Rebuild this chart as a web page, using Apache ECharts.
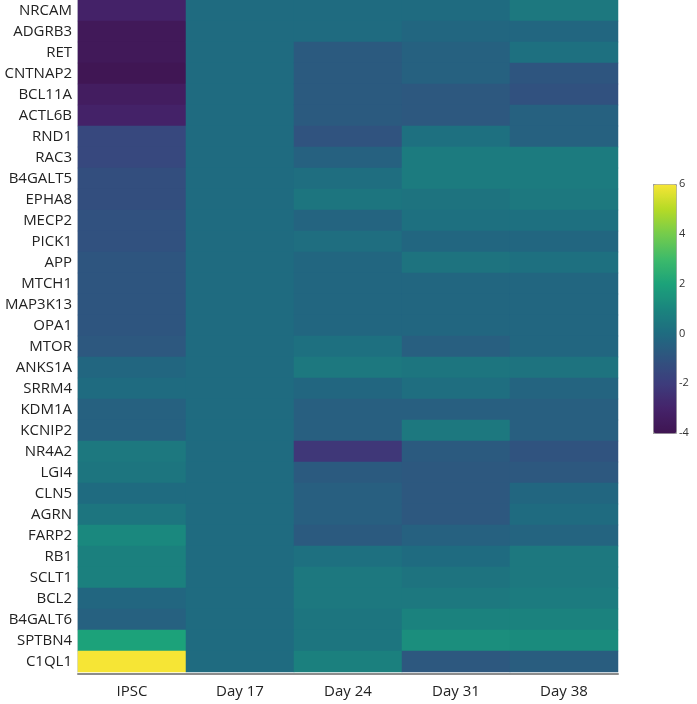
<!DOCTYPE html>
<html>
<head>
<meta charset="utf-8">
<script src="https://cdn.jsdelivr.net/npm/echarts@6/dist/echarts.min.js"></script>
<style>
  html, body { margin: 0; padding: 0; background: #fff; }
  #chart { width: 697px; height: 704px; }
</style>
</head>
<body>
<div id="chart"></div>
<script>
// columns and genes (top to bottom)
var days = ['IPSC', 'Day 17', 'Day 24', 'Day 31', 'Day 38'];
var genes = ['NRCAM', 'ADGRB3', 'RET', 'CNTNAP2', 'BCL11A', 'ACTL6B', 'RND1', 'RAC3',
  'B4GALT5', 'EPHA8', 'MECP2', 'PICK1', 'APP', 'MTCH1', 'MAP3K13', 'OPA1', 'MTOR',
  'ANKS1A', 'SRRM4', 'KDM1A', 'KCNIP2', 'NR4A2', 'LGI4', 'CLN5', 'AGRN', 'FARP2',
  'RB1', 'SCLT1', 'BCL2', 'B4GALT6', 'SPTBN4', 'C1QL1'];

// one array per column, values in gene order
var ipsc  = [-3.1, -3.7, -3.7, -3.9, -3.4, -3.1, -1.5, -1.5, -1.2, -1.2, -1.1, -1.1, -0.9, -0.9, -0.9, -0.9,
  -0.8, -0.2, 0.0, -0.4, -0.4, 0.5, 0.4, 0.0, 0.4, 1.1, 0.8, 0.8, -0.2, -0.4, 2.0, 6.0];
var day17 = [0, 0, 0, 0, 0, 0, 0, 0, 0, 0, 0, 0, 0, 0, 0, 0,
  0, 0, 0, 0, 0, 0, 0, 0, 0, 0, 0, 0, 0, 0, 0, 0];
var day24 = [0.0, 0.0, -0.7, -0.7, -0.7, -0.7, -1.0, -0.4, 0.1, 0.4, -0.3, 0.1, -0.2, -0.2, -0.2, -0.2,
  0.2, 0.5, -0.2, -0.5, -0.5, -2.2, -0.7, -0.5, -0.5, -0.7, 0.2, 0.5, 0.5, 0.4, 0.4, 0.8];
var day31 = [0.0, -0.2, -0.4, -0.4, -0.8, -0.8, 0.2, 0.6, 0.6, 0.3, 0.2, -0.2, 0.3, -0.2, -0.2, -0.2,
  -0.5, 0.4, 0.1, -0.5, 0.5, -0.7, -0.8, -0.8, -0.8, -0.4, 0.0, 0.3, 0.5, 0.9, 1.3, -0.8];
var day38 = [0.5, -0.2, 0.2, -0.9, -1.1, -0.4, -0.4, 0.6, 0.6, 0.5, 0.2, -0.2, 0.2, -0.2, -0.2, -0.2,
  -0.2, 0.3, -0.3, -0.5, -0.5, -1.0, -0.8, -0.2, 0.0, -0.3, 0.5, 0.5, 0.6, 0.9, 1.2, -0.6];

var scaleTicks = [-4, 6, 2]; // min, max, step of the colour scale

// viridis-like ramp, a little darker in the middle like the original
var palette = ['#3f1552', '#45236a', '#3d3c7c', '#30537f', '#1f6b80', '#1a857e',
  '#1ca27a', '#3dba6a', '#74cc4c', '#b5da26', '#f6e535'];

var columns = [ipsc, day17, day24, day31, day38];
var cells = [];
columns.forEach(function (col, i) {
  col.forEach(function (v, j) {
    cells.push([i, j, v]);
  });
});

var font = 'Open Sans';
var chart = echarts.init(document.getElementById('chart'));
chart.setOption({
  animation: false,
  grid: [
    { left: 78, top: 0, width: 540, height: 672 },
    { left: 653, top: 184, width: 23, height: 249 }
  ],
  xAxis: [{
    type: 'category',
    data: days,
    offset: 2,
    axisLine: { lineStyle: { color: '#8c8c8c', width: 2 } },
    axisTick: { alignWithLabel: true, length: 5, lineStyle: { color: '#999' } },
    axisLabel: { fontSize: 15, color: '#222', margin: 10, fontFamily: font },
    splitLine: { show: false }
  }, {
    gridIndex: 1, type: 'value', show: false, min: 0, max: 1
  }],
  yAxis: [{
    type: 'category',
    data: genes,
    inverse: true,
    offset: 1,
    axisLine: { lineStyle: { color: '#d4d8dc', width: 1 } },
    axisTick: { show: false },
    axisLabel: { fontSize: 15, color: '#222', margin: 5, fontFamily: font },
    splitLine: { show: false }
  }, {
    gridIndex: 1,
    type: 'value',
    position: 'right',
    min: scaleTicks[0], max: scaleTicks[1], interval: scaleTicks[2],
    axisLine: { show: false },
    axisTick: { show: true, length: 4, lineStyle: { color: '#999' } },
    axisLabel: { fontSize: 11, color: '#333', margin: 3, fontFamily: font },
    splitLine: { show: false }
  }],
  visualMap: {
    type: 'continuous',
    seriesIndex: 0,
    min: scaleTicks[0],
    max: scaleTicks[1],
    calculable: false,
    orient: 'vertical',
    left: 653,
    top: 184,
    itemWidth: 23,
    itemHeight: 249,
    padding: 0,
    borderColor: '#a0a0a0',
    borderWidth: 1,
    inRange: { color: palette }
  },
  series: [{
    type: 'heatmap',
    data: cells,
    itemStyle: { borderWidth: 0 },
    emphasis: { disabled: true }
  }, {
    type: 'scatter',
    xAxisIndex: 1,
    yAxisIndex: 1,
    data: []
  }]
});
</script>
</body>
</html>
